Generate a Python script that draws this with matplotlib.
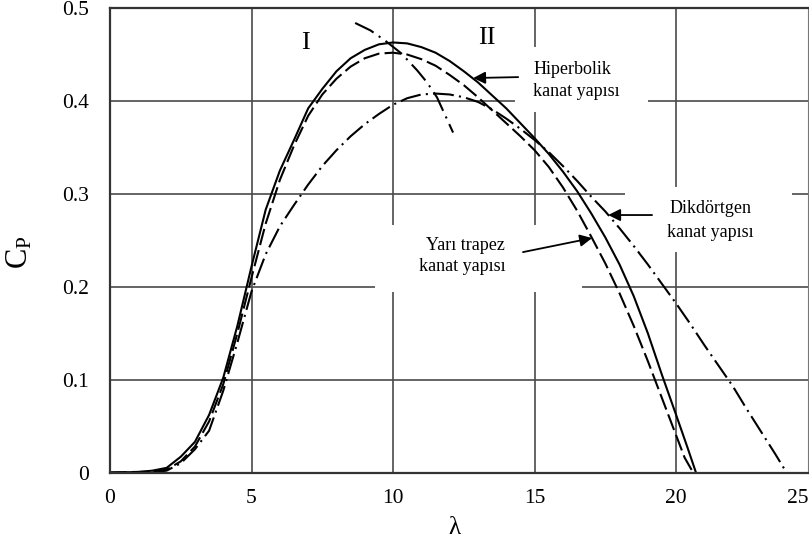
import matplotlib
matplotlib.use('Agg')
import matplotlib.pyplot as plt
from matplotlib.patches import Rectangle

plt.rcParams['font.family'] = ['Liberation Serif', 'DejaVu Serif']
plt.rcParams['mathtext.fontset'] = 'custom'
plt.rcParams['mathtext.rm'] = 'Liberation Serif'

# ---- okunan veriler (λ, Cp) ----
lam_hip = [0, 1.0, 1.5, 2.0, 2.5, 3.0, 3.5, 4.0, 4.5, 5.0, 5.5, 6.0, 6.5, 7.0, 7.5, 8.0,
           8.5, 9.0, 9.5, 10.0, 10.5, 11.0, 11.5, 12.0, 12.5, 13.0, 13.5, 14.0, 14.5,
           15.0, 15.5, 16.0, 16.5, 17.0, 17.5, 18.0, 18.5, 19.0, 19.5, 20.0, 20.4, 20.7]
cp_hip = [0, 0.0005, 0.002, 0.005, 0.017, 0.033, 0.062, 0.102, 0.158, 0.222, 0.283, 0.325,
          0.358, 0.392, 0.413, 0.432, 0.446, 0.455, 0.461, 0.463, 0.462, 0.458, 0.452,
          0.443, 0.432, 0.420, 0.406, 0.392, 0.376, 0.360, 0.343, 0.324, 0.303, 0.279,
          0.253, 0.224, 0.190, 0.150, 0.105, 0.062, 0.027, 0.0]

lam_trap = [0, 1.5, 2.0, 2.5, 3.0, 3.5, 4.0, 4.5, 5.0, 5.5, 6.0, 6.5, 7.0, 7.5, 8.0, 8.5,
            9.0, 9.5, 10.0, 10.5, 11.0, 11.5, 12.0, 12.5, 13.0, 13.5, 14.0, 14.5, 15.0,
            15.5, 16.0, 16.5, 17.0, 17.5, 18.0, 18.5, 19.0, 19.5, 20.0, 20.3, 20.6]
cp_trap = [0, 0.001, 0.003, 0.012, 0.028, 0.055, 0.095, 0.150, 0.210, 0.268, 0.315, 0.352,
           0.384, 0.407, 0.424, 0.437, 0.446, 0.451, 0.452, 0.450, 0.445, 0.438, 0.428,
           0.417, 0.404, 0.390, 0.376, 0.362, 0.347, 0.329, 0.307, 0.282, 0.254, 0.225,
           0.193, 0.158, 0.120, 0.080, 0.040, 0.016, 0.0]

lam_dik = [1.5, 2.0, 2.5, 3.0, 3.5, 4.0, 4.5, 5.0, 5.5, 6.0, 6.5, 7.0, 7.5, 8.0, 8.5, 9.0,
           9.5, 10.0, 10.5, 11.0, 11.5, 12.0, 12.5, 13.0, 13.5, 14.0, 14.5, 15.0, 15.5,
           16.0, 16.5, 17.0, 17.5, 18.0, 18.5, 19.0, 19.5, 20.0, 20.5, 21.0, 21.5, 22.0,
           22.5, 23.0, 23.5, 23.9]
cp_dik = [0.0, 0.002, 0.010, 0.025, 0.045, 0.088, 0.140, 0.195, 0.235, 0.265, 0.288, 0.310,
          0.330, 0.347, 0.362, 0.375, 0.386, 0.396, 0.403, 0.407, 0.408, 0.407, 0.404,
          0.399, 0.391, 0.381, 0.370, 0.358, 0.345, 0.330, 0.314, 0.297, 0.281, 0.263,
          0.244, 0.224, 0.203, 0.182, 0.160, 0.137, 0.115, 0.093, 0.068, 0.044, 0.020, 0.0]

# bölge I / II sınırı
lam_sinir = [8.66, 9.2, 9.72, 10.3, 10.85, 11.2, 11.55, 12.12]
cp_sinir = [0.484, 0.476, 0.465, 0.451, 0.433, 0.420, 0.404, 0.366]

x_ticks = [0, 5, 10, 15, 20]
x_labels = ['0', '5', '10', '15', '20']
y_ticks = [0, 0.1, 0.2, 0.3, 0.4, 0.5]
y_labels = ['0', '0.1', '0.2', '0.3', '0.4', '0.5']

fig = plt.figure(figsize=(8.09, 5.40), dpi=100)
ax = fig.add_axes([0.136, 0.125, 0.8628, 0.860])
ax.set_xlim(0, 24.66)
ax.set_ylim(0, 0.5)
ax.set_axisbelow(True)
ax.grid(True, color='#4a4a4a', lw=1.2)

ax.set_xticks(x_ticks)
ax.set_xticklabels(x_labels)
ax.set_yticks(y_ticks)
ax.set_yticklabels(y_labels)
ax.tick_params(axis='both', length=0, labelsize=15.5)
ax.tick_params(axis='x', pad=12)
ax.tick_params(axis='y', pad=15)
# 25 etiketi kenarda (kırpılmış görünüm)
ax.annotate('25', xy=(24.28, 0), xycoords=('data', 'axes fraction'), xytext=(0, -12),
            textcoords='offset points', ha='center', va='top', fontsize=15.5,
            annotation_clip=False)

for s in ['left', 'bottom', 'top']:
    ax.spines[s].set_linewidth(1.6)
    ax.spines[s].set_color('#333333')
ax.spines['right'].set_linewidth(0.8)
ax.spines['right'].set_color('#777777')

# yazı arka planları (ızgarayı kesen beyaz alanlar)
for (x0, y0, x1, y1) in [(14.31, 0.388, 19.0, 0.458),
                         (18.2, 0.237, 24.1, 0.307),
                         (9.36, 0.194, 16.68, 0.266)]:
    ax.add_patch(Rectangle((x0, y0), x1 - x0, y1 - y0, facecolor='white',
                           edgecolor='none', zorder=1))

lw = 1.5
ax.plot(lam_hip, cp_hip, color='black', lw=lw, ls='-', zorder=2)
ax.plot(lam_trap, cp_trap, color='black', lw=lw, ls=(0, (8, 2.5)), zorder=2)
ax.plot(lam_dik, cp_dik, color='black', lw=lw, ls=(0, (10, 2.5, 1, 2.5)), zorder=2)
ax.plot(lam_sinir, cp_sinir, color='black', lw=lw, ls=(0, (10, 3, 1, 3)), zorder=2)

ax.text(6.89, 0.4627, 'I', fontsize=19, ha='center', va='center', zorder=3)
ax.text(13.32, 0.468, 'II', fontsize=19, ha='center', va='center', zorder=3)

ax.text(14.95, 0.422, 'Hiperbolik\nkanat yapısı', fontsize=13, ha='left', va='center',
        linespacing=1.45, zorder=3)
ax.text(21.2, 0.271, 'Dikdörtgen\nkanat yapısı', fontsize=13, ha='center', va='center',
        linespacing=1.55, zorder=3)
ax.text(13.96, 0.233, 'Yarı trapez\nkanat yapısı', fontsize=13, ha='right', va='center',
        multialignment='right', linespacing=1.3, zorder=3)

arrows = [((12.83, 0.4247), (14.42, 0.4257)),
          ((17.60, 0.2772), (19.15, 0.2772)),
          ((17.03, 0.2524), (14.59, 0.2373))]
for tip, tail in arrows:
    ax.annotate('', xy=tip, xytext=tail,
                arrowprops=dict(arrowstyle='-|>', color='black', lw=1.3,
                                mutation_scale=18, shrinkA=0, shrinkB=0), zorder=3)

ax.set_ylabel(r'$\mathrm{C_P}$', fontsize=22, rotation=90)
ax.yaxis.set_label_coords(-0.108, 0.475)
ax.set_xlabel('λ', fontsize=18)
ax.xaxis.set_label_coords(0.494, -0.095)

fig.savefig('out.png', dpi=100)
